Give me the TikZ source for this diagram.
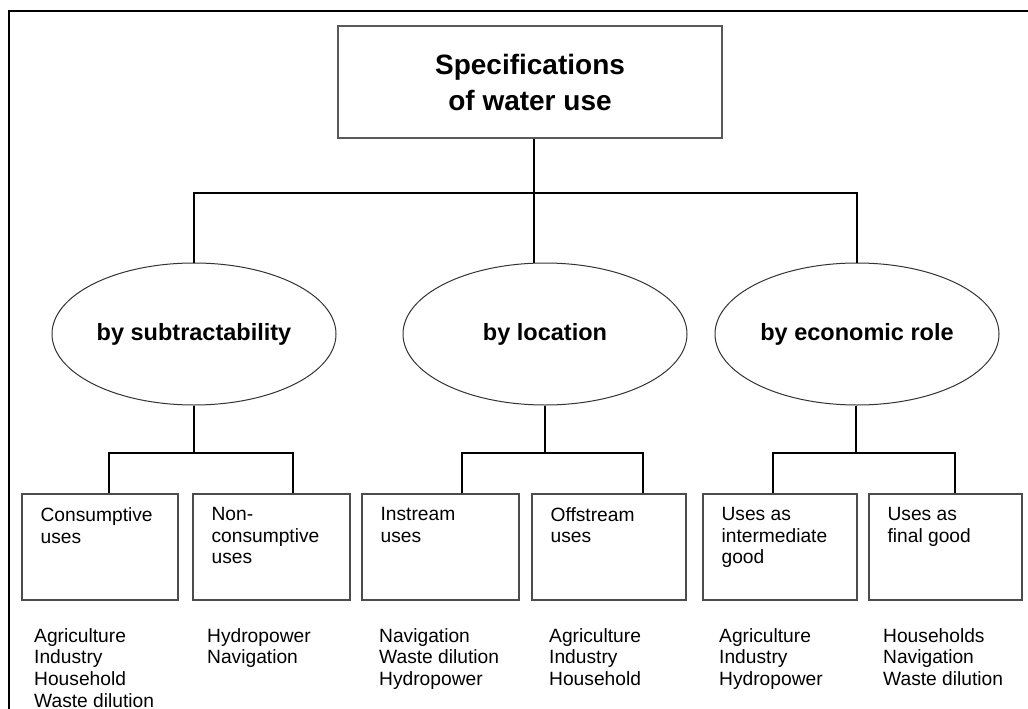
\documentclass[tikz,border=0pt]{standalone}
\usepackage{fontspec}
\setmainfont{Liberation Sans}
\usetikzlibrary{shapes.geometric}
\begin{document}
\begin{tikzpicture}[x=1pt,y=-1pt,
  conn/.style={draw=black, line width=1.2pt},
  boxframe/.style={draw=black!70, line width=1.2pt, rectangle, minimum width=#1, minimum height=106pt, inner sep=0pt},
  ell/.style={draw=black!80, line width=1pt, ellipse, minimum width=284pt, minimum height=142pt, inner sep=0pt, font=\fontsize{23.5}{28}\selectfont\bfseries},
  boxtext/.style={anchor=north west, inner sep=0pt, align=left, font=\fontsize{19.2}{21.5}\selectfont, execute at begin node={\rule{0pt}{14pt}}},
  listtext/.style={anchor=north west, inner sep=0pt, align=left, font=\fontsize{19.2}{21.7}\selectfont, execute at begin node={\rule{0pt}{14pt}}}
]
\useasboundingbox (0,0) rectangle (1028,709);
\fill[white] (0,0) rectangle (1028,709);
% outer frame (partly cropped)
\draw[line width=2.2pt] (9,715) -- (9,11) -- (1035,11);

% top box
\node[draw=black!65, line width=1.2pt, minimum width=384pt, minimum height=112pt, inner sep=0pt, align=center,
      font=\fontsize{28}{36}\selectfont\bfseries] (spec) at (530,82) {Specifications\\of water use};

% ellipses
\node[ell] (e1) at (194,334) {by subtractability};
\node[ell] (e2) at (545,334) {by location};
\node[ell] (e3) at (857,334) {by economic role};

% boxes
\node[boxframe=156pt] (b1) at (100,547) {};
\node[boxframe=157pt] (b2) at (271.5,547) {};
\node[boxframe=157pt] (b3) at (440.5,547) {};
\node[boxframe=154pt] (b4) at (609,547) {};
\node[boxframe=154pt] (b5) at (780,547) {};
\node[boxframe=153pt] (b6) at (945.5,547) {};

\node[boxtext] (t1) at ([xshift=19pt,yshift=-14pt]b1.north west) {Consumptive\\uses};
\node[boxtext] (t2) at ([xshift=19pt,yshift=-14pt]b2.north west) {Non-\\consumptive\\uses};
\node[boxtext] (t3) at ([xshift=19pt,yshift=-14pt]b3.north west) {Instream\\uses};
\node[boxtext] (t4) at ([xshift=19pt,yshift=-14pt]b4.north west) {Offstream\\uses};
\node[boxtext] (t5) at ([xshift=19pt,yshift=-14pt]b5.north west) {Uses as\\intermediate\\good};
\node[boxtext] (t6) at ([xshift=19pt,yshift=-14pt]b6.north west) {Uses as\\final good};

% lists
\node[listtext] (l1) at (34,628) {Agriculture\\Industry\\Household\\Waste dilution};
\node[listtext] (l2) at (207,628) {Hydropower\\Navigation};
\node[listtext] (l3) at (379,628) {Navigation\\Waste dilution\\Hydropower};
\node[listtext] (l4) at (549,628) {Agriculture\\Industry\\Household};
\node[listtext] (l5) at (719,628) {Agriculture\\Industry\\Hydropower};
\node[listtext] (l6) at (883,628) {Households\\Navigation\\Waste dilution};

% connectors top level
\coordinate (bus) at (534,193);
\coordinate (row) at (0,453);
\draw[conn] ([xshift=4pt]spec.south) -- (bus);
\draw[conn] (e1.north) -- (e1.north |- bus) -- (e3.north |- bus) -- (e3.north);
\draw[conn] (bus) -- (bus |- e2.north);

% connectors lower level
\draw[conn] (e1.south) -- (e1.south |- row);
\draw[conn] ([xshift=9pt]b1.north) -- ([xshift=9pt]b1.north |- row) -- ([xshift=21.5pt]b2.north |- row) -- ([xshift=21.5pt]b2.north);
\draw[conn] (e2.south) -- (e2.south |- row);
\draw[conn] ([xshift=21.5pt]b3.north) -- ([xshift=21.5pt]b3.north |- row) -- ([xshift=34pt]b4.north |- row) -- ([xshift=34pt]b4.north);
\draw[conn] ([xshift=-1pt]e3.south) -- ([xshift=-1pt]e3.south |- row);
\draw[conn] ([xshift=-7pt]b5.north) -- ([xshift=-7pt]b5.north |- row) -- ([xshift=9.5pt]b6.north |- row) -- ([xshift=9.5pt]b6.north);
\end{tikzpicture}
\end{document}
